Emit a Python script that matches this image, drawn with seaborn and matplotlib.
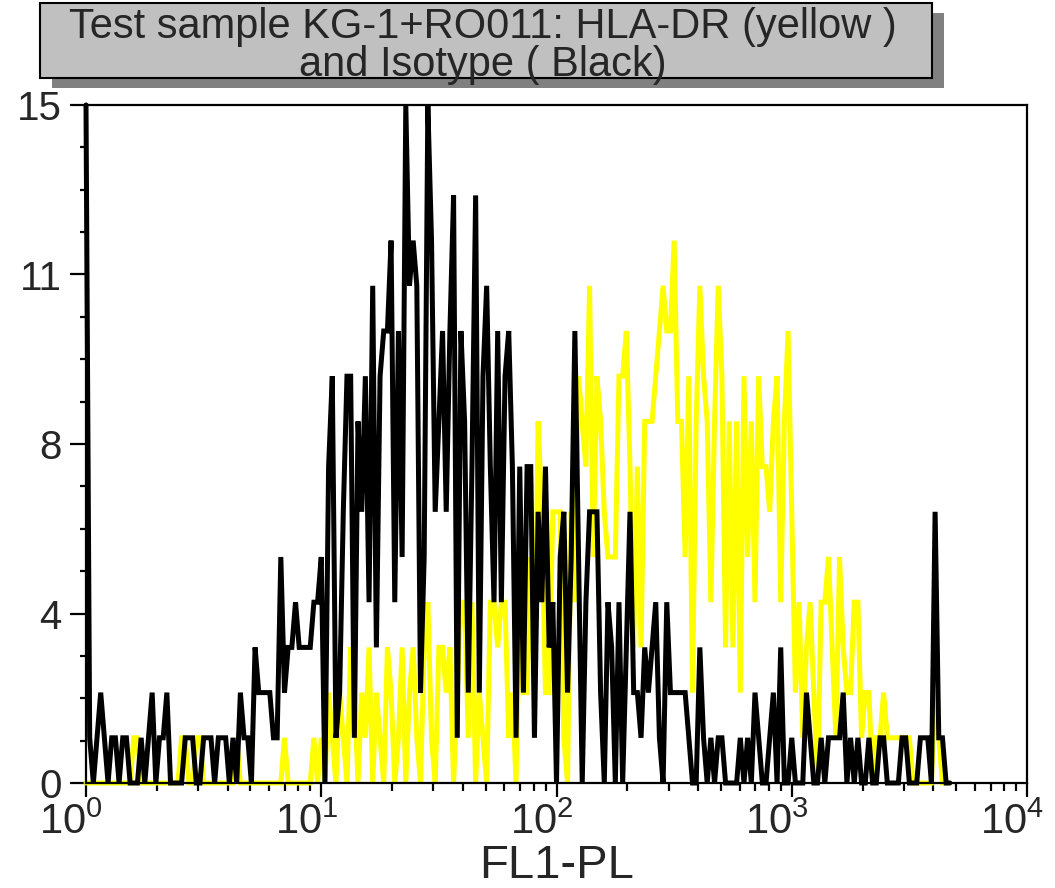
import numpy as np
import pandas as pd
import matplotlib
matplotlib.use("Agg")
import matplotlib.pyplot as plt
import matplotlib.transforms as mtransforms
import seaborn as sns
from matplotlib.patches import Rectangle
from matplotlib.ticker import FixedLocator, MultipleLocator, LogLocator, NullFormatter

# Log-scale histogram channels (64 channels per decade), recorded up to channel 235
channels_per_decade = 64

# Isotype control counts per channel
isotype_counts = [
    15, 1, 0, 1, 2, 1, 0, 1, 1, 0, 1, 1, 0, 0, 0, 1,
    0, 1, 2, 0, 1, 1, 2, 0, 0, 0, 0, 1, 1, 1, 0, 0,
    1, 1, 1, 0, 1, 1, 1, 0, 1, 0, 2, 1, 1, 0, 3, 2,
    2, 2, 2, 1, 1, 5, 2, 3, 3, 4, 3, 3, 3, 3, 4, 4,
    5, 0, 7, 9, 1, 2, 6, 9, 9, 1, 8, 6, 9, 4, 11, 3,
    9, 10, 10, 12, 4, 10, 5, 15, 11, 12, 11, 2, 5, 15, 12, 6,
    8, 10, 6, 10, 13, 1, 10, 8, 2, 7, 13, 2, 9, 11, 7, 4,
    10, 4, 9, 10, 7, 1, 7, 2, 7, 7, 1, 6, 4, 7, 3, 4,
    0, 5, 6, 2, 5, 10, 5, 0, 4, 6, 6, 6, 2, 0, 4, 3,
    0, 4, 0, 3, 6, 2, 2, 1, 3, 2, 3, 4, 1, 0, 4, 2,
    2, 2, 2, 2, 1, 0, 0, 3, 1, 0, 1, 0, 1, 1, 0, 0,
    0, 0, 1, 0, 1, 0, 2, 1, 0, 0, 1, 2, 0, 3, 0, 0,
    1, 0, 0, 0, 2, 1, 0, 0, 1, 0, 1, 1, 1, 1, 2, 0,
    1, 0, 1, 0, 0, 1, 0, 0, 1, 1, 0, 0, 0, 0, 1, 1,
    0, 0, 0, 1, 1, 1, 0, 6, 1, 1, 0, 0,
]

# HLA-DR stained sample counts per channel
hladr_counts = [
    0, 0, 0, 0, 0, 0, 0, 0, 0, 0, 0, 0, 0, 1, 1, 0,
    0, 0, 0, 0, 0, 0, 0, 0, 0, 0, 1, 1, 0, 0, 1, 1,
    0, 0, 0, 0, 0, 0, 0, 0, 0, 1, 0, 0, 0, 0, 0, 0,
    0, 0, 0, 0, 0, 0, 1, 0, 0, 0, 0, 0, 0, 0, 1, 0,
    1, 0, 2, 1, 0, 2, 1, 0, 3, 2, 0, 2, 1, 3, 0, 2,
    1, 0, 3, 2, 0, 1, 3, 0, 2, 3, 1, 0, 3, 4, 1, 0,
    3, 3, 2, 3, 0, 2, 4, 4, 1, 4, 0, 2, 1, 0, 4, 4,
    3, 4, 4, 1, 2, 0, 4, 2, 2, 5, 2, 8, 6, 2, 2, 6,
    6, 6, 1, 0, 6, 4, 9, 8, 7, 11, 5, 9, 8, 6, 5, 5,
    5, 9, 9, 10, 7, 3, 7, 3, 8, 8, 8, 9, 10, 11, 10, 10,
    12, 8, 8, 5, 9, 2, 8, 11, 9, 8, 4, 8, 11, 9, 3, 8,
    3, 8, 2, 9, 5, 8, 4, 9, 7, 7, 6, 8, 9, 4, 8, 10,
    6, 2, 4, 1, 3, 4, 2, 0, 4, 4, 5, 3, 1, 5, 3, 2,
    2, 4, 4, 1, 2, 2, 0, 1, 1, 2, 1, 1, 1, 1, 1, 1,
    1, 0, 0, 0, 0, 0, 0, 2, 1, 0, 0, 0,
]

y_tick_values = [0, 3.75, 7.5, 11.25, 15]
y_tick_labels = ["0", "4", "8", "11", "15"]
x_tick_values = [1, 10, 100, 1000, 10000]
x_tick_labels = [r"$10^{0}$", r"$10^{1}$", r"$10^{2}$", r"$10^{3}$", r"$10^{4}$"]
title_text = "Test sample KG-1+RO011: HLA-DR (yellow )\nand Isotype ( Black)"

sns.set_style("white")
plt.rcParams["font.family"] = ["Liberation Sans", "DejaVu Sans"]
plt.rcParams["mathtext.fontset"] = "custom"
plt.rcParams["mathtext.rm"] = "Liberation Sans"
plt.rcParams["mathtext.it"] = "Liberation Sans:italic"
plt.rcParams["mathtext.default"] = "regular"

n_channels = len(isotype_counts)
channel = np.arange(n_channels)
fl1 = 10 ** (channel / channels_per_decade)

df = pd.DataFrame({
    "FL1-PL": np.concatenate([fl1, fl1]),
    "Count": np.array(hladr_counts + isotype_counts, dtype=float),
    "Stain": ["HLA-DR"] * n_channels + ["Isotype"] * n_channels,
})

W, H = 1055, 888
fig = plt.figure(figsize=(W / 100, H / 100), dpi=100)
fig.patch.set_facecolor("white")

ax_l, ax_r, ax_t, ax_b = 86, 1027, 105, 783
ax = fig.add_axes([ax_l / W, 1 - ax_b / H, (ax_r - ax_l) / W, (ax_b - ax_t) / H])

line_w = 3.6
sns.lineplot(data=df[df["Stain"] == "HLA-DR"], x="FL1-PL", y="Count",
             color="#ffff00", linewidth=line_w, estimator=None, sort=False,
             ax=ax, clip_on=False, zorder=2)
sns.lineplot(data=df[df["Stain"] == "Isotype"], x="FL1-PL", y="Count",
             color="black", linewidth=line_w, estimator=None, sort=False,
             ax=ax, clip_on=False, zorder=3)
for ln in ax.get_lines():
    ln.set_linewidth(line_w)
    ln.set_solid_joinstyle("miter")

ax.set_xscale("log")
ax.set_xlim(1, 1e4)
ax.set_ylim(0, 15)

ax.xaxis.set_major_locator(FixedLocator(x_tick_values))
ax.set_xticklabels(x_tick_labels)
ax.xaxis.set_minor_locator(LogLocator(base=10, subs=np.arange(2, 10)))
ax.xaxis.set_minor_formatter(NullFormatter())

ax.set_yticks(y_tick_values)
ax.set_yticklabels(y_tick_labels)
ax.yaxis.set_minor_locator(MultipleLocator(0.9375))

ax.tick_params(axis="both", which="both", direction="out", color="black",
               bottom=True, left=True, top=False, right=False)
ax.tick_params(axis="x", which="major", length=10, width=1.6, labelsize=30, pad=4)
ax.tick_params(axis="x", which="minor", length=5.5, width=1.6)
ax.tick_params(axis="y", which="major", length=11.5, width=1.6, labelsize=29, pad=6)
ax.tick_params(axis="y", which="minor", length=4, width=1.6)

# decade labels sit with the mantissa just left of the tick
shift = mtransforms.ScaledTranslation(-15 / 100, 0, fig.dpi_scale_trans)
for lab in ax.get_xticklabels():
    lab.set_transform(lab.get_transform() + shift)

for s in ax.spines.values():
    s.set_visible(True)
    s.set_color("black")
    s.set_linewidth(1.6)
    s.set_zorder(4)

ax.set_xlabel("FL1-PL", fontsize=34, labelpad=1)
ax.set_ylabel("")
legend = ax.get_legend()
if legend is not None:
    legend.remove()

# Title box with drop shadow
def fig_rect(x0, y0, x1, y1, **kw):
    return Rectangle((x0 / W, 1 - y1 / H), (x1 - x0) / W, (y1 - y0) / H,
                     transform=fig.transFigure, **kw)

fig.patches.append(fig_rect(52, 13, 944, 88, facecolor="#808080",
                            edgecolor="none", zorder=1))
fig.patches.append(fig_rect(40, 3, 932, 78, facecolor="#c0c0c0",
                            edgecolor="black", linewidth=1.5, zorder=2))
fig.text(483 / W, 1 - 46 / H, title_text, ha="center", va="center",
         multialignment="center", fontsize=30, linespacing=0.92, zorder=3)

fig.savefig("out.png", dpi=100, facecolor="white")
